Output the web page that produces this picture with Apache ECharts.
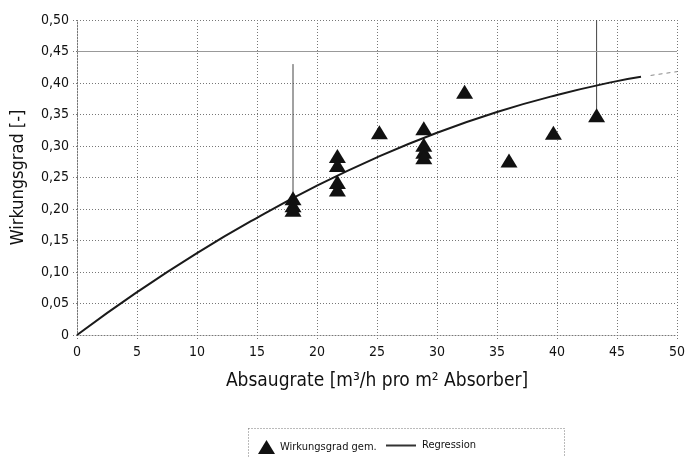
<!DOCTYPE html>
<html>
<head>
<meta charset="utf-8">
<script src="https://cdn.jsdelivr.net/npm/echarts@6/dist/echarts.min.js"></script>
<style>
  html, body { margin: 0; padding: 0; background: #fff; }
  #chart { width: 693px; height: 457px; }
</style>
</head>
<body>
<div id="chart"></div>
<script>
var FONT = '"Liberation Sans Narrow", "DejaVu Sans Condensed", sans-serif';

// Messwerte: [Absaugrate, Wirkungsgrad]
var measured = [
  [18.0, 0.217], [18.0, 0.206], [18.0, 0.199],
  [21.7, 0.284], [21.7, 0.270], [21.7, 0.243], [21.7, 0.231],
  [25.2, 0.322],
  [28.9, 0.328], [28.9, 0.302], [28.9, 0.291], [28.9, 0.282],
  [32.3, 0.386],
  [36.0, 0.277],
  [39.7, 0.321],
  [43.3, 0.349]
];
// Fehlerbalken nach oben: [x, von, bis]
var errorBars = [[18.0, 0.217, 0.43], [43.3, 0.349, 0.50]];
// Regressionskurve
var regression = [
  [0, 0], [5, 0.068], [10, 0.130], [15, 0.186], [20, 0.237],
  [25, 0.282], [30, 0.321], [35, 0.354], [40, 0.381], [45, 0.403], [47, 0.410]
];
var regressionExt = [[47.8, 0.412], [50, 0.418]];
var yTickLabels = ['0', '0,05', '0,10', '0,15', '0,20', '0,25', '0,30', '0,35', '0,40', '0,45', '0,50'];

var chart = echarts.init(document.getElementById('chart'));

var dotted = { color: '#777', width: 1, type: [1, 2] };

var series = [
  {
    name: 'Regression',
    type: 'line',
    data: regression,
    smooth: true,
    symbol: 'none',
    lineStyle: { color: '#1a1a1a', width: 2 },
    z: 3
  },
  {
    name: 'RegressionExt',
    type: 'line',
    data: regressionExt,
    symbol: 'none',
    lineStyle: { color: '#888', width: 1, type: [4, 4] },
    z: 3
  },
  {
    name: 'Wirkungsgrad gem.',
    type: 'scatter',
    data: measured,
    symbol: 'triangle',
    symbolSize: [17, 14],
    itemStyle: { color: '#111', opacity: 1 },
    z: 4
  }
];
errorBars.forEach(function (e) {
  series.push({
    name: 'err',
    type: 'line',
    data: [[e[0], e[1]], [e[0], e[2]]],
    symbol: 'none',
    lineStyle: { color: '#444', width: 1 },
    z: 2
  });
});
// kraeftigere Linie bei 0,45
series.push({
  name: 'ref',
  type: 'line',
  data: [],
  markLine: {
    silent: true,
    symbol: 'none',
    label: { show: false },
    lineStyle: { color: '#999', width: 1, type: 'solid' },
    data: [{ yAxis: 0.45 }]
  }
});

chart.setOption({
  animation: false,
  textStyle: { fontFamily: FONT },
  grid: { left: 77, right: 16, top: 20, bottom: 122, containLabel: false },
  xAxis: {
    type: 'value',
    min: 0, max: 50, interval: 5,
    name: 'Absaugrate [m³/h pro m² Absorber]',
    nameLocation: 'middle',
    nameGap: 37,
    nameTextStyle: { fontFamily: FONT, fontSize: 19, color: '#111' },
    axisLine: { lineStyle: dotted },
    axisTick: { show: true, length: 4, lineStyle: dotted },
    axisLabel: { fontFamily: FONT, fontSize: 14, color: '#111', margin: 10 },
    splitLine: { show: true, lineStyle: dotted }
  },
  yAxis: {
    type: 'value',
    min: 0, max: 0.5, interval: 0.05,
    name: 'Wirkungsgrad [-]',
    nameLocation: 'middle',
    nameGap: 50,
    nameTextStyle: { fontFamily: FONT, fontSize: 18, color: '#111' },
    axisLine: { show: true, lineStyle: dotted },
    axisTick: { show: true, length: 5, lineStyle: dotted },
    axisLabel: {
      fontFamily: FONT, fontSize: 14, color: '#111', margin: 8,
      formatter: function (v) { return yTickLabels[Math.round(v / 0.05)]; }
    },
    splitLine: { show: true, lineStyle: dotted }
  },
  legend: [
    {
      data: [{ name: 'Wirkungsgrad gem.', icon: 'triangle' }],
      left: 253, top: 435,
      itemWidth: 17, itemHeight: 14, itemGap: 6,
      itemStyle: { opacity: 1 },
      textStyle: { fontFamily: FONT, fontSize: 11, color: '#111' }
    },
    {
      data: [{ name: 'Regression', icon: 'rect' }],
      left: 381, top: 435,
      itemWidth: 30, itemHeight: 2,
      itemStyle: { color: '#333' },
      textStyle: { fontFamily: FONT, fontSize: 11, color: '#111', padding: [0, 0, 0, 1] }
    }
  ],
  graphic: [{
    type: 'rect',
    shape: { x: 248.5, y: 428.5, width: 316, height: 40 },
    style: { fill: 'none', stroke: '#777', lineWidth: 1, lineDash: [1, 2] },
    silent: true
  }],
  series: series
});
</script>
</body>
</html>
